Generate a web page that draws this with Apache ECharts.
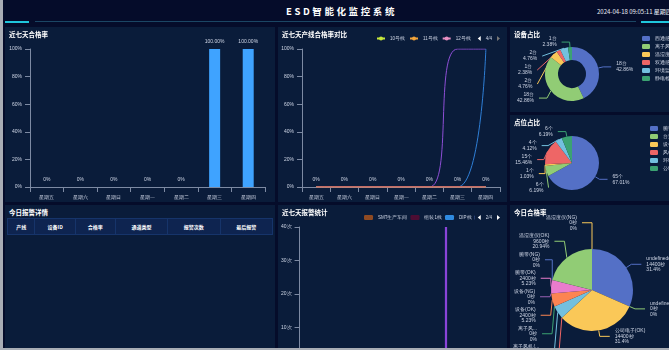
<!DOCTYPE html>
<html>
<head>
<meta charset="utf-8">
<script src="https://cdn.jsdelivr.net/npm/echarts@6/dist/echarts.min.js"></script>
<style>
  html, body { margin: 0; padding: 0; width: 669px; height: 350px; overflow: hidden; background: #050c2a; font-family: "Noto Sans CJK SC", "DejaVu Sans", sans-serif; }
  .edge-left { position: absolute; left: 0; top: 0; width: 3px; height: 350px; background: #a9adb5; z-index: 9; }
  .edge-bottom { position: absolute; left: 0; top: 348px; width: 669px; height: 2px; background: #a9adb5; z-index: 9; }
  .header-title { position: absolute; left: 0; width: 683px; top: 4px; text-align: center; color: #fff; font-size: 9.5px; font-weight: bold; letter-spacing: 2.6px; }
  .header-time { position: absolute; left: 597px; top: 7px; color: #e6ebf5; font-size: 6px; white-space: nowrap; }
  .line { position: absolute; height: 2px; }
  .panel { position: absolute; background: #0a1c3a; overflow: hidden; }
  .panel .title { position: absolute; left: 4px; top: 2px; color: #fff; font-size: 6.5px; font-weight: bold; z-index: 2; }
  .chart { position: absolute; left: 0; top: 0; width: 100%; height: 100%; }
  table { position: absolute; left: 2px; top: 13px; width: 266px; border-collapse: collapse; }
  th { height: 15px; padding: 0; background: #0e2450; border: 1px solid #16346a; color: #fff; font-size: 5px; font-weight: bold; }
</style>
</head>
<body>
<div class="edge-left"></div>
<div class="edge-bottom"></div>
<div class="header-title">ESD智能化监控系统</div>
<div class="header-time">2024-04-18 09:05:11 星期四</div>
<div class="line" style="left:5px;top:21px;width:24px;background:#1fc6dc"></div>
<div class="line" style="left:35px;top:21px;width:601px;height:1px;background:#1b4664"></div>
<div class="line" style="left:641px;top:21px;width:40px;background:#1fc6dc"></div>

<div class="panel" style="left:5px;top:27px;width:270px;height:175px">
  <div class="title">近七天合格率</div>
  <div id="c1" class="chart"></div>
</div>
<div class="panel" style="left:278px;top:27px;width:229px;height:175px">
  <div class="title">近七天产线合格率对比</div>
  <div id="c2" class="chart"></div>
</div>
<div class="panel" style="left:510px;top:27px;width:173px;height:85px">
  <div class="title">设备占比</div>
  <div id="c3" class="chart"></div>
</div>
<div class="panel" style="left:510px;top:115px;width:173px;height:86px">
  <div class="title">点位占比</div>
  <div id="c4" class="chart"></div>
</div>
<div class="panel" style="left:5px;top:205px;width:270px;height:175px">
  <div class="title">今日报警详情</div>
  <table>
    <tr><th>产线</th><th>设备ID</th><th>合格率</th><th>通道类型</th><th>报警次数</th><th>最后报警</th></tr>
  </table>
</div>
<div class="panel" style="left:278px;top:205px;width:229px;height:175px">
  <div class="title">近七天报警统计</div>
  <div id="c5" class="chart"></div>
</div>
<div class="panel" style="left:510px;top:205px;width:173px;height:175px">
  <div class="title">今日合格率</div>
  <div id="c6" class="chart"></div>
</div>

<script>
// 近七天
const days = ['星期五', '星期六', '星期日', '星期一', '星期二', '星期三', '星期四']
const passRate = [0, 0, 0, 0, 0, 100, 100]

// 产线合格率对比
const lineNames = ['1号线', '2号线', '3号线', '4号线', '5号线', '6号线',
  '7号线', '8号线', '9号线', '10号线', '11号线', '12号线']
const lineColors = ['#8e4fd6', '#2f7fd6', '#3fb27f', '#5470c6', '#73c0de', '#fc8452',
  '#9a60b4', '#6b8fd8', '#b23a3e', '#c6e83c', '#f2a43a', '#e78fc2']
const lineRates = [
  [0, 0, 0, 0, 0, 100, 100],
  [0, 0, 0, 0, 0, 0, 100],
  [0, 0, 0, 0, 0, 0, 0],
  [0, 0, 0, 0, 0, 0, 0],
  [0, 0, 0, 0, 0, 0, 0],
  [0, 0, 0, 0, 0, 0, 0],
  [0, 0, 0, 0, 0, 0, 0],
  [0, 0, 0, 0, 0, 0, 0],
  [0, 0, 0, 0, 0, 0, 0],
  [0, 0, 0, 0, 0, 0, 0],
  [0, 0, 0, 0, 0, 0, 0],
  [0, 0, 0, 0, 0, 0, 0]
]

// 设备占比
const deviceNames = ['西通感应器', '离子风机', '温湿度仪', '双通感应器', '环境监测', '静电检测']
const deviceCounts = [18, 18, 2, 1, 2, 1]

// 点位占比
const pointNames = ['腕带', '台垫', '设备', '风机', '环境监测', '公地线']
const pointCounts = [65, 6, 1, 15, 4, 6]

// 报警统计
const alarmNames = ['贴片线', '测试线', '包装线', 'SMT生产车间', '组装1线', 'DIP线', '组装2线', '老化线', '维修线', '仓库']
const alarmColors = ['#8a44d8', '#3fb27f', '#e0a030', '#8f4a22', '#4d0d33', '#2f8ae0', '#5470c6', '#73c0de', '#ee6666', '#91cc75']
const alarmCounts = [
  [0, 0, 0, 0, 0, 40, 0],
  [0, 0, 0, 0, 0, 0, 0],
  [0, 0, 0, 0, 0, 0, 0],
  [0, 0, 0, 0, 0, 0, 0],
  [0, 0, 0, 0, 0, 0, 0],
  [0, 0, 0, 0, 0, 0, 0],
  [0, 0, 0, 0, 0, 0, 0],
  [0, 0, 0, 0, 0, 0, 0],
  [0, 0, 0, 0, 0, 0, 0],
  [0, 0, 0, 0, 0, 0, 0]
]

// 今日合格率
const todayNames = ['undefined(OK)', 'undefined(NG)', '公司电子(OK)', '公司电子(NG)', '离子风机(OK)', '离子风机(NG)',
  '设备(OK)', '设备(NG)', '腕带(OK)', '腕带(NG)', '温湿度仪(OK)', '温湿度仪(NG)']
const todaySeconds = [14400, 0, 14400, 0, 2400, 0, 2400, 0, 2400, 0, 9600, 0]
const todayPct = ['31.4%', '0%', '31.4%', '0%', '5.23%', '0%', '5.23%', '0%', '5.23%', '0%', '20.94%', '0%']

const palette = ['#5470c6', '#91cc75', '#fac858', '#ee6666', '#73c0de', '#3ba272', '#fc8452', '#9a60b4', '#ea7ccc']
const txt = '#cfd6e6'
const axisCol = '#7d8aa3'
const small = 5

function axisCommon(extra) {
  return Object.assign({
    axisLine: { show: true, lineStyle: { color: axisCol } },
    axisTick: { show: true, lineStyle: { color: axisCol } },
    axisLabel: { color: txt, fontSize: small },
    splitLine: { show: false }
  }, extra)
}

const pager = {
  pageIconSize: 5, pageIconColor: '#fff', pageIconInactiveColor: '#777',
  pageTextStyle: { color: txt, fontSize: 4.5 },
  pageFormatter: '{current}/{total}',
  pageButtonItemGap: 3
}

// 近七天合格率
const c1 = echarts.init(document.getElementById('c1'))
c1.setOption({
  animation: false,
  grid: { left: 25, right: 10, top: 22, bottom: 15 },
  xAxis: axisCommon({ type: 'category', data: days }),
  yAxis: axisCommon({ type: 'value', min: 0, max: 100, interval: 20, axisLabel: { color: txt, fontSize: small, formatter: '{value}%' } }),
  series: [{
    type: 'bar',
    data: passRate,
    barWidth: 11,
    itemStyle: { color: '#3fa3ff' },
    label: {
      show: true, position: 'top', color: txt, fontSize: small,
      formatter: p => p.value ? p.value.toFixed(2) + '%' : '0%'
    }
  }]
})

// 近七天产线合格率对比
const c2 = echarts.init(document.getElementById('c2'))
c2.setOption({
  animation: false,
  legend: Object.assign({
    type: 'scroll', right: 2, top: 4, width: 124,
    itemWidth: 8, itemHeight: 5, itemGap: 4,
    textStyle: { color: txt, fontSize: 4.5 },
    scrollDataIndex: 9,
    data: lineNames
  }, pager),
  grid: { left: 24, right: 7, top: 22, bottom: 15 },
  xAxis: axisCommon({ type: 'category', data: days, boundaryGap: true }),
  yAxis: axisCommon({ type: 'value', min: 0, max: 100, interval: 20, axisLabel: { color: txt, fontSize: small, formatter: '{value}%' } }),
  series: lineNames.map((n, i) => ({
    name: n,
    type: 'line',
    smooth: true,
    data: lineRates[i],
    symbol: 'circle',
    symbolSize: i === 8 ? 0.1 : 4,
    showSymbol: i === 8,
    z: i === 8 ? 5 : 2,
    color: lineColors[i],
    lineStyle: { width: 1 },
    label: i === 8 ? { show: true, position: 'top', color: txt, fontSize: small, formatter: '{c}%' } : { show: false }
  }))
})

// 设备占比
const c3 = echarts.init(document.getElementById('c3'))
c3.setOption({
  animation: false,
  color: palette,
  legend: {
    orient: 'vertical', left: 127, top: 4,
    itemWidth: 8, itemHeight: 5, itemGap: 3,
    textStyle: { color: txt, fontSize: small }
  },
  series: [{
    type: 'pie',
    radius: [14, 27],
    center: [62, 47],
    data: deviceNames.map((n, i) => ({ name: n, value: deviceCounts[i] })),
    label: { color: txt, fontSize: small, lineHeight: 6, formatter: '{c}台\n{d}%' },
    labelLine: { length: 5, length2: 8 }
  }]
})

// 点位占比
const c4 = echarts.init(document.getElementById('c4'))
c4.setOption({
  animation: false,
  color: palette,
  legend: {
    orient: 'vertical', left: 135, top: 6,
    itemWidth: 8, itemHeight: 5, itemGap: 3,
    textStyle: { color: txt, fontSize: small }
  },
  series: [{
    type: 'pie',
    radius: 27,
    center: [62, 48],
    data: pointNames.map((n, i) => ({ name: n, value: pointCounts[i] })),
    label: { color: txt, fontSize: small, lineHeight: 6, formatter: '{c}个\n{d}%' },
    labelLine: { length: 5, length2: 8 }
  }]
})

// 近七天报警统计
const c5 = echarts.init(document.getElementById('c5'))
c5.setOption({
  animation: false,
  legend: Object.assign({
    type: 'scroll', right: 2, top: 5, width: 136,
    itemWidth: 9, itemHeight: 5, itemGap: 3,
    textStyle: { color: txt, fontSize: 4.5 },
    scrollDataIndex: 3,
    data: alarmNames
  }, pager),
  grid: { left: 19, right: 7, top: 22, bottom: 19 },
  xAxis: axisCommon({ type: 'category', data: days }),
  yAxis: axisCommon({ type: 'value', min: 0, max: 40, interval: 10, axisLabel: { color: txt, fontSize: small, formatter: '{value}次' } }),
  series: alarmNames.map((n, i) => ({
    name: n,
    type: 'bar',
    data: alarmCounts[i],
    color: alarmColors[i]
  }))
})

// 今日合格率
const c6 = echarts.init(document.getElementById('c6'))
c6.setOption({
  animation: false,
  color: palette,
  series: [{
    type: 'pie',
    radius: 41,
    center: [82, 85],
    data: todayNames.map((n, i) => ({ name: n, value: todaySeconds[i] })),
    label: {
      color: txt, fontSize: small, lineHeight: 5.5,
      formatter: p => p.name + '\n' + p.value + '秒\n' + todayPct[p.dataIndex]
    },
    labelLine: { length: 6, length2: 10 }
  }]
})
</script>
</body>
</html>
